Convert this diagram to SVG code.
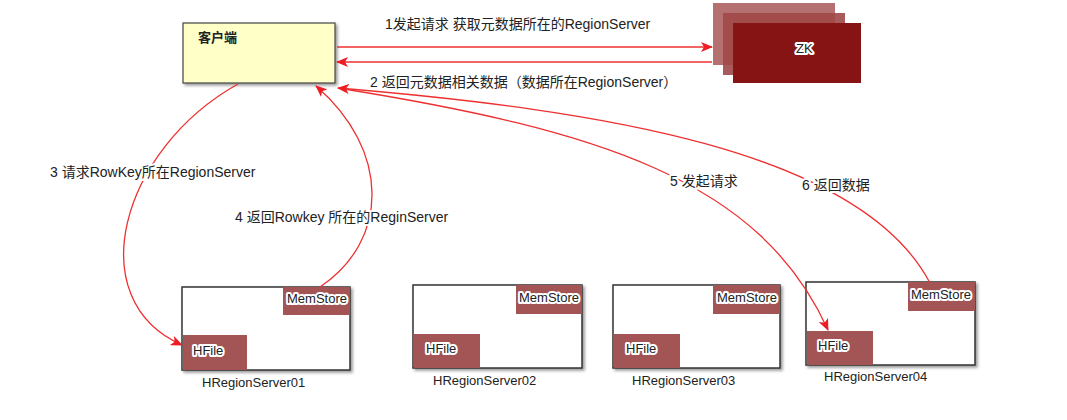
<svg xmlns="http://www.w3.org/2000/svg" width="1067" height="420" viewBox="0 0 1067 420">
<defs>
<marker id="ah" markerWidth="12" markerHeight="10" refX="11" refY="5" orient="auto" markerUnits="userSpaceOnUse"><path d="M0,0 L12,5 L0,10 L3,5 Z" fill="#ee1c24"/></marker>
<filter id="sh" x="-10%" y="-10%" width="130%" height="130%"><feDropShadow dx="2" dy="2" stdDeviation="1.5" flood-opacity="0.4"/></filter>
</defs>
<style>
text{font-family:"Liberation Sans",Arial,"Noto Sans CJK SC",sans-serif;font-size:13px;fill:#222}
.lbl{stroke:#fff;stroke-width:4;paint-order:stroke;stroke-linejoin:round}
.big{font-size:14px}
.c{fill:none;stroke:#ee3030;stroke-width:1.3;marker-end:url(#ah)}
.srv{fill:#fff;stroke:#333;stroke-width:1.5;filter:url(#sh)}
.blk{fill:#a35454}
</style>
<rect width="1067" height="420" fill="#fff"/>
<g id="client"><rect x="183" y="23" width="152" height="60" fill="#ffffc8" stroke="#444" stroke-width="1.2" filter="url(#sh)"/><text x="198" y="42" font-weight="bold">客户端</text></g>
<g id="zk"><rect x="713" y="3" width="122" height="62" fill="#a85858" opacity="0.85"/><rect x="723" y="13" width="122" height="62" fill="#a04848" opacity="0.9"/><rect x="733" y="23" width="128" height="60" fill="#861414"/><text x="796" y="53" class="lbl" fill="#222">ZK</text></g>
<g id="s1"><rect class="srv" x="182" y="287" width="168" height="83"/><rect class="blk" x="283" y="287" width="67" height="28"/><rect class="blk" x="183" y="335" width="64" height="35"/><text class="lbl" x="287" y="303">MemStore</text><text class="lbl" x="193" y="355">HFile</text><text class="lbl" x="202" y="387">HRegionServer01</text></g>
<g id="s2"><rect class="srv" x="413" y="285" width="169" height="83"/><rect class="blk" x="516" y="285" width="66" height="29"/><rect class="blk" x="414" y="334" width="66" height="34"/><text class="lbl" x="519" y="302">MemStore</text><text class="lbl" x="426" y="353">HFile</text><text class="lbl" x="433" y="385">HRegionServer02</text></g>
<g id="s3"><rect class="srv" x="613" y="285" width="167" height="83"/><rect class="blk" x="713" y="285" width="67" height="29"/><rect class="blk" x="614" y="334" width="66" height="34"/><text class="lbl" x="717" y="302">MemStore</text><text class="lbl" x="626" y="353">HFile</text><text class="lbl" x="632" y="385">HRegionServer03</text></g>
<g id="s4"><rect class="srv" x="806" y="282" width="169" height="83"/><rect class="blk" x="908" y="282" width="67" height="29"/><rect class="blk" x="807" y="331" width="66" height="34"/><text class="lbl" x="911" y="299">MemStore</text><text class="lbl" x="818" y="350">HFile</text><text class="lbl" x="824" y="381">HRegionServer04</text></g>
<g id="connectors">
<path class="c" d="M337,47 L712,47"/>
<path class="c" d="M712,62 L337,62"/>
<path class="c" d="M238,84 C120,150 80,300 182,345"/>
<path class="c" d="M320,287 C390,240 390,150 316,86"/>
<path class="c" d="M338,88 C600,130 760,180 828,330"/>
<path class="c" d="M930,283 C860,150 600,110 338,88"/>
</g>
<g id="labels">
<text class="lbl big" x="385" y="29">1发起请求 获取元数据所在的RegionServer</text>
<text class="lbl big" x="370" y="87">2 返回元数据相关数据（数据所在RegionServer）</text>
<text class="lbl big" x="50" y="177">3 请求RowKey所在RegionServer</text>
<text class="lbl big" x="235" y="222">4 返回Rowkey 所在的ReginServer</text>
<text class="lbl big" x="670" y="186">5 发起请求</text>
<text class="lbl big" x="802" y="190">6 返回数据</text>
</g>
</svg>
